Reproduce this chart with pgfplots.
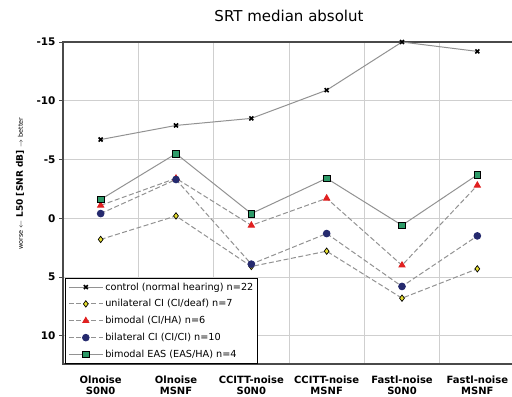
\documentclass[border=0pt]{standalone}
\usepackage{pgfplots}
\pgfplotsset{compat=1.18}
\usepackage{fontspec}
\setmainfont{DejaVu Sans}
\definecolor{lgray}{HTML}{929292}
\definecolor{ggrid}{HTML}{CFCFCF}
\definecolor{axc}{HTML}{4A4A4A}
\definecolor{yel}{HTML}{E8E030}
\definecolor{redm}{HTML}{E02020}
\definecolor{navy}{HTML}{252A6E}
\definecolor{grn}{HTML}{2E9A68}
\begin{document}
\begin{tikzpicture}
\path[use as bounding box] (0bp,0bp) rectangle (512bp,397bp);
\begin{axis}[
  at={(63bp,33bp)}, anchor=south west,
  width=452bp, height=322bp, scale only axis,
  xmin=-0.5, xmax=5.5, ymin=-15, ymax=12.4, y dir=reverse,
  xtick={0,1,2,3,4,5},
  xticklabels={{Olnoise\\S0N0},{Olnoise\\MSNF},{CCITT-noise\\S0N0},{CCITT-noise\\MSNF},{Fastl-noise\\S0N0},{Fastl-noise\\MSNF}},
  x tick label style={align=center, font=\fontsize{10bp}{11.5bp}\selectfont\bfseries, yshift=-4bp},
  minor xtick={0.5,1.5,2.5,3.5,4.5},
  xminorgrids=true, xmajorgrids=false,
  ytick={-15,-10,-5,0,5,10},
  yticklabels={-15,-10,-5,0,5,10},
  y tick label style={font=\fontsize{10.5bp}{12bp}\selectfont\bfseries},
  ymajorgrids=true,
  grid style={ggrid, line width=0.8bp},
  minor grid style={ggrid, line width=0.8bp},
  x tick style={draw=none},
  y tick style={axc, line width=0.8bp},
  tick align=outside, major tick length=4bp,
  axis line style={axc, line width=1.3bp},
  title={SRT median absolut},
  title style={font=\fontsize{15bp}{17bp}\selectfont, at={(axis description cs:0.5,1)}, anchor=center, yshift=20bp},
  ylabel={{\fontsize{6.5bp}{7bp}\selectfont worse $\leftarrow$}\ \textbf{L50 [SNR dB]}\ {\fontsize{6.5bp}{7bp}\selectfont $\rightarrow$ better}},
  ylabel style={font=\fontsize{9bp}{10bp}\selectfont, at={(axis description cs:-0.095,0.56)}, anchor=center},
  legend style={at={(axis description cs:0.005,0.0)}, anchor=south west,
    draw=black, line width=1.2bp, fill=white,
    font=\fontsize{9.7bp}{11bp}\selectfont, row sep=4bp, inner sep=2.5bp},
  legend cell align=left,
  legend image code/.code={%
    \draw[mark repeat=2,mark phase=2,#1] plot coordinates {(0bp,0bp) (17bp,0bp) (34bp,0bp)};},
  legend image post style={line width=0.9bp},
]
\addplot[lgray, line width=1bp, mark=x, mark size=2.8bp, mark options={black, solid, line width=1.6bp}]
  coordinates {(0,-6.7) (1,-7.9) (2,-8.5) (3,-10.9) (4,-15.0) (5,-14.2)};
\addlegendentry{control (normal hearing) n=22}
\addplot[lgray, line width=1bp, dash pattern=on 5bp off 2.5bp, mark=diamond*, mark size=3.2bp, mark options={solid, fill=yel, draw=black, line width=0.7bp}]
  coordinates {(0,1.8) (1,-0.2) (2,4.1) (3,2.8) (4,6.8) (5,4.3)};
\addlegendentry{unilateral CI (CI/deaf) n=7}
\addplot[lgray, line width=1bp, dash pattern=on 5bp off 2.5bp, mark=triangle*, mark size=3.4bp, mark options={solid, fill=redm, draw=redm}]
  coordinates {(0,-1.1) (1,-3.4) (2,0.6) (3,-1.7) (4,4.0) (5,-2.8)};
\addlegendentry{bimodal (CI/HA) n=6}
\addplot[lgray, line width=1bp, dash pattern=on 5bp off 2.5bp, mark=*, mark size=3.3bp, mark options={solid, fill=navy, draw=navy}]
  coordinates {(0,-0.4) (1,-3.3) (2,3.9) (3,1.3) (4,5.8) (5,1.5)};
\addlegendentry{bilateral CI (CI/CI) n=10}
\addplot[lgray, line width=1bp, mark=square*, mark size=3.4bp, mark options={solid, fill=grn, draw=black, line width=0.8bp}]
  coordinates {(0,-1.6) (1,-5.5) (2,-0.4) (3,-3.4) (4,0.6) (5,-3.7)};
\addlegendentry{bimodal EAS (EAS/HA) n=4}
\end{axis}
\end{tikzpicture}
\end{document}
